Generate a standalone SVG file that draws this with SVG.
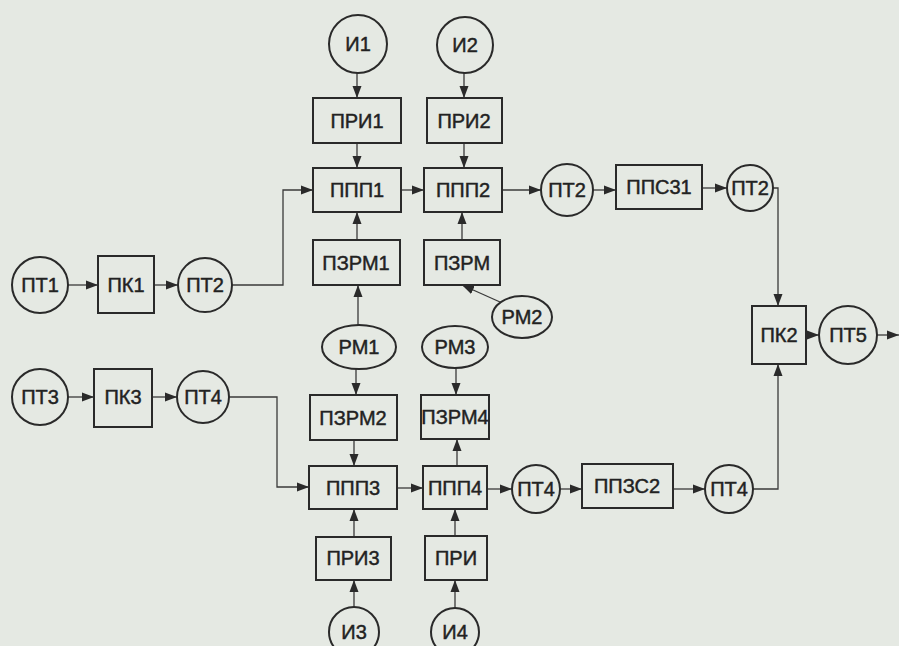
<svg xmlns="http://www.w3.org/2000/svg" width="899" height="646" viewBox="0 0 899 646">
<defs>
<marker id="ar" markerUnits="userSpaceOnUse" markerWidth="13" markerHeight="10" refX="12" refY="5" orient="auto">
<path d="M0,0.5 L12,5 L0,9.5 Z" fill="#2a2a2a"/>
</marker>
<style>
.n rect,.n circle,.n ellipse{fill:none;stroke:#2a2a2a;stroke-width:2}
.n text{font-family:"Liberation Sans",Arial,sans-serif;font-size:20px;fill:#222;text-anchor:middle;stroke:#222;stroke-width:0.45}
#edges path{fill:none;stroke:#3a3a3a;stroke-width:1.3;marker-end:url(#ar)}
</style>
</defs>
<rect width="899" height="646" fill="#e5e9e3"/>
<g id="edges">
<path d="M357,73 V98"/>
<path d="M357,143 V168"/>
<path d="M464,73 V98"/>
<path d="M464,143 V168"/>
<path d="M401,190 H424"/>
<path d="M357,240 V212"/>
<path d="M462,240 V212"/>
<path d="M358,325 V285"/>
<path d="M500,302 L462,285"/>
<path d="M68,285 H98"/>
<path d="M154,285 H178"/>
<path d="M232,285 H283 V190 H313"/>
<path d="M502,190 H541"/>
<path d="M593,190 H616"/>
<path d="M702,188 H727"/>
<path d="M773,188 H778 V306"/>
<path d="M806,335 H819"/>
<path d="M877,335 H899"/>
<path d="M356,369 V395"/>
<path d="M456,368 V395"/>
<path d="M354,440 V466"/>
<path d="M457,466 V439"/>
<path d="M68,397 H94"/>
<path d="M152,397 H177"/>
<path d="M229,397 H277 V487 H309"/>
<path d="M397,488 H423"/>
<path d="M487,489 H512"/>
<path d="M560,489 H582"/>
<path d="M673,489 H705"/>
<path d="M753,489 H778 V364"/>
<path d="M354,537 V509"/>
<path d="M455,536 V509"/>
<path d="M354,607 V580"/>
<path d="M455,608 V580"/>
</g>
<g id="I1" class="n"><circle cx="358" cy="44" r="29"/><text x="358" y="51">И1</text></g>
<g id="I2" class="n"><circle cx="465" cy="45" r="28"/><text x="465" y="52">И2</text></g>
<g id="PRI1" class="n"><rect x="313" y="98" width="88" height="45"/><text x="357" y="128">ПРИ1</text></g>
<g id="PRI2" class="n"><rect x="427" y="98" width="75" height="45"/><text x="464" y="128">ПРИ2</text></g>
<g id="PPP1" class="n"><rect x="313" y="168" width="88" height="44"/><text x="357" y="197">ППП1</text></g>
<g id="PPP2" class="n"><rect x="424" y="168" width="78" height="44"/><text x="463" y="197">ППП2</text></g>
<g id="PZRM1" class="n"><rect x="313" y="240" width="87" height="45"/><text x="356" y="270">ПЗРМ1</text></g>
<g id="PZRM" class="n"><rect x="424" y="240" width="76" height="45"/><text x="462" y="270">ПЗРМ</text></g>
<g id="PT1" class="n"><circle cx="40" cy="285" r="28"/><text x="40" y="292">ПТ1</text></g>
<g id="PK1" class="n"><rect x="98" y="256" width="56" height="57"/><text x="126" y="292">ПК1</text></g>
<g id="PT2a" class="n"><circle cx="205" cy="285" r="27"/><text x="205" y="292">ПТ2</text></g>
<g id="RM2" class="n"><ellipse cx="522" cy="317" rx="30" ry="21"/><text x="522" y="324">РМ2</text></g>
<g id="RM1" class="n"><ellipse cx="359" cy="347" rx="37" ry="22"/><text x="359" y="354">РМ1</text></g>
<g id="RM3" class="n"><ellipse cx="455" cy="347" rx="33" ry="21"/><text x="455" y="354">РМ3</text></g>
<g id="PT3" class="n"><circle cx="40" cy="397" r="28"/><text x="40" y="404">ПТ3</text></g>
<g id="PK3" class="n"><rect x="94" y="369" width="58" height="58"/><text x="123" y="404">ПК3</text></g>
<g id="PT4a" class="n"><circle cx="203" cy="397" r="26"/><text x="203" y="404">ПТ4</text></g>
<g id="PZRM2" class="n"><rect x="310" y="395" width="87" height="45"/><text x="353" y="425">ПЗРМ2</text></g>
<g id="PZRM4" class="n"><rect x="421" y="395" width="68" height="44"/><text x="455" y="424">ПЗРМ4</text></g>
<g id="PPP3" class="n"><rect x="309" y="466" width="88" height="43"/><text x="353" y="495">ППП3</text></g>
<g id="PPP4" class="n"><rect x="423" y="466" width="64" height="43"/><text x="455" y="495">ППП4</text></g>
<g id="PT4b" class="n"><circle cx="536" cy="489" r="24"/><text x="536" y="496">ПТ4</text></g>
<g id="PPZS2" class="n"><rect x="582" y="464" width="91" height="44"/><text x="627" y="493">ППЗС2</text></g>
<g id="PT4c" class="n"><circle cx="729" cy="489" r="24"/><text x="729" y="496">ПТ4</text></g>
<g id="PT2b" class="n"><circle cx="567" cy="190" r="26"/><text x="567" y="197">ПТ2</text></g>
<g id="PPS31" class="n"><rect x="616" y="165" width="86" height="44"/><text x="659" y="194">ППС31</text></g>
<g id="PT2c" class="n"><circle cx="750" cy="188" r="23"/><text x="750" y="195">ПТ2</text></g>
<g id="PK2" class="n"><rect x="752" y="306" width="54" height="58"/><text x="779" y="342">ПК2</text></g>
<g id="PT5" class="n"><circle cx="848" cy="335" r="29"/><text x="848" y="342">ПТ5</text></g>
<g id="PRI3" class="n"><rect x="316" y="537" width="75" height="43"/><text x="353" y="565">ПРИ3</text></g>
<g id="PRI" class="n"><rect x="425" y="536" width="62" height="44"/><text x="456" y="565">ПРИ</text></g>
<g id="I3" class="n"><circle cx="354" cy="632" r="25"/><text x="354" y="639">И3</text></g>
<g id="I4" class="n"><circle cx="455" cy="632" r="24"/><text x="455" y="639">И4</text></g>
</svg>
